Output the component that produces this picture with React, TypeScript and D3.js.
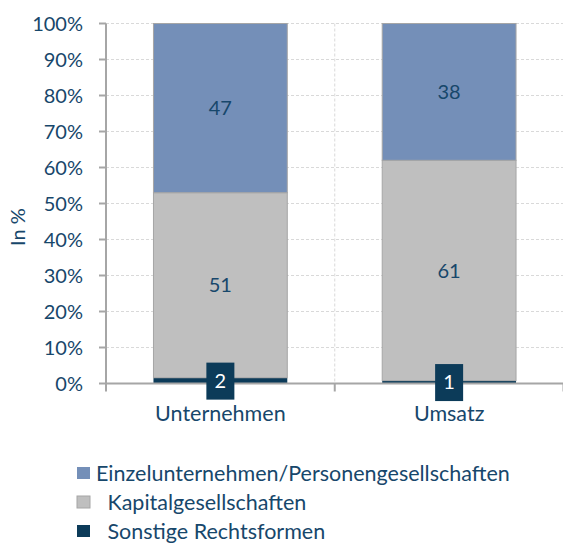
import React from "react";
import * as d3 from "d3";

const categories = ["Unternehmen", "Umsatz"];
const seriesNames = ["Sonstige Rechtsformen", "Kapitalgesellschaften", "Einzelunternehmen/Personengesellschaften"];
const sonstige = [1.6, 0.8];
const kapital = [51.4, 61.2];
const einzel = [47.0, 38.0];
const yTicks = [0, 10, 20, 30, 40, 50, 60, 70, 80, 90, 100];
const legendOrder = [2, 1, 0];

const colors = ["#0c3b59", "#bfbfbf", "#748fb8"];
const textColor = "#17476b";
const axisColor = "#a6a6a6";
const gridColor = "#d9d9d9";
const font = "Lato, 'Open Sans', sans-serif";

export default function App() {
  const W = 563, H = 543;
  const left = 106, right = 563.5, top = 23.5, bottom = 383.5;
  const x = d3.scaleBand<string>().domain(categories).range([left, right]).paddingInner(0.415).paddingOuter(0.2075);
  const y = d3.scaleLinear().domain([0, 100]).range([bottom, top]);

  const rows = categories.map((c, i) => ({ cat: c, s0: sonstige[i], s1: kapital[i], s2: einzel[i] }));
  const stack = d3.stack<any>().keys(["s0", "s1", "s2"]);
  const layers = stack(rows);
  const step = x.step();

  return (
    <svg width={W} height={H} style={{ position: "absolute", left: 0, top: 0 }} fontFamily={font}>
      {/* gridlines */}
      {yTicks.filter(t => t > 0).map(t => (
        <line key={"g" + t} x1={left} x2={right} y1={y(t)} y2={y(t)} stroke={gridColor} strokeWidth={1} strokeDasharray="3,2" />
      ))}
      {categories.map((c, i) => {
        const bx = left + step * (i + 1);
        return <line key={"v" + c} x1={bx} x2={bx} y1={top} y2={bottom} stroke={gridColor} strokeWidth={1} strokeDasharray="3,2" />;
      })}
      {/* bars */}
      {layers.map((layer, li) => (
        <g key={"l" + li}>
          {layer.map((d: any, i: number) => (
            <rect key={i} x={x(categories[i])!} width={x.bandwidth()} y={y(d[1])} height={y(d[0]) - y(d[1])}
              fill={colors[li]} stroke={axisColor} strokeWidth={li === 0 ? 0 : 1} />
          ))}
        </g>
      ))}
      {/* axes */}
      <line x1={left} x2={left} y1={top} y2={bottom + 8} stroke={axisColor} strokeWidth={2} />
      <line x1={left - 1} x2={right} y1={bottom} y2={bottom} stroke={axisColor} strokeWidth={2} />
      {yTicks.map(t => (
        <g key={"t" + t}>
          <line x1={left - 7} x2={left} y1={y(t)} y2={y(t)} stroke={axisColor} strokeWidth={2} />
          <text x={83} y={y(t)} dy="0.36em" textAnchor="end" fill={textColor} fontSize={20}>{t}%</text>
        </g>
      ))}
      {categories.map((c, i) => {
        const bx = left + step * (i + 1);
        return <line key={"xt" + c} x1={bx} x2={bx} y1={bottom} y2={bottom + 8} stroke={axisColor} strokeWidth={2} />;
      })}
      {categories.map(c => (
        <text key={"xl" + c} x={x(c)! + x.bandwidth() / 2} y={420.5} textAnchor="middle" fill={textColor} fontSize={21.5}>{c}</text>
      ))}
      <text transform={`translate(25,227) rotate(-90)`} textAnchor="middle" fill={textColor} fontSize={20}>In %</text>
      {/* data labels */}
      {layers.map((layer, li) => layer.map((d: any, i: number) => {
        const cx = x(categories[i])! + x.bandwidth() / 2;
        const cy = (y(d[0]) + y(d[1])) / 2;
        const v = Math.round(d[1] - d[0]);
        if (li === 0) {
          return (
            <g key={"dl" + li + i}>
              <rect x={cx - 14} y={cy - 18} width={28} height={37} fill={colors[0]} />
              <text x={cx} y={cy} dy="0.36em" textAnchor="middle" fill="#ffffff" fontSize={20}>{v}</text>
            </g>
          );
        }
        return <text key={"dl" + li + i} x={cx} y={cy} dy="0.36em" textAnchor="middle" fill={textColor} fontSize={20}>{v}</text>;
      }))}
      {/* legend */}
      {legendOrder.map((si, k) => {
        const ly = 473 + k * 29;
        return (
          <g key={"lg" + si}>
            <rect x={77} y={ly - 6} width={13} height={12} fill={colors[si]} stroke={si === 1 ? "#a6a6a6" : "none"} strokeWidth={1} />
            <text x={k === 0 ? 96 : 107.5} y={ly} dy="0.36em" fill={textColor} fontSize={21.5}>{seriesNames[si]}</text>
          </g>
        );
      })}
    </svg>
  );
}
